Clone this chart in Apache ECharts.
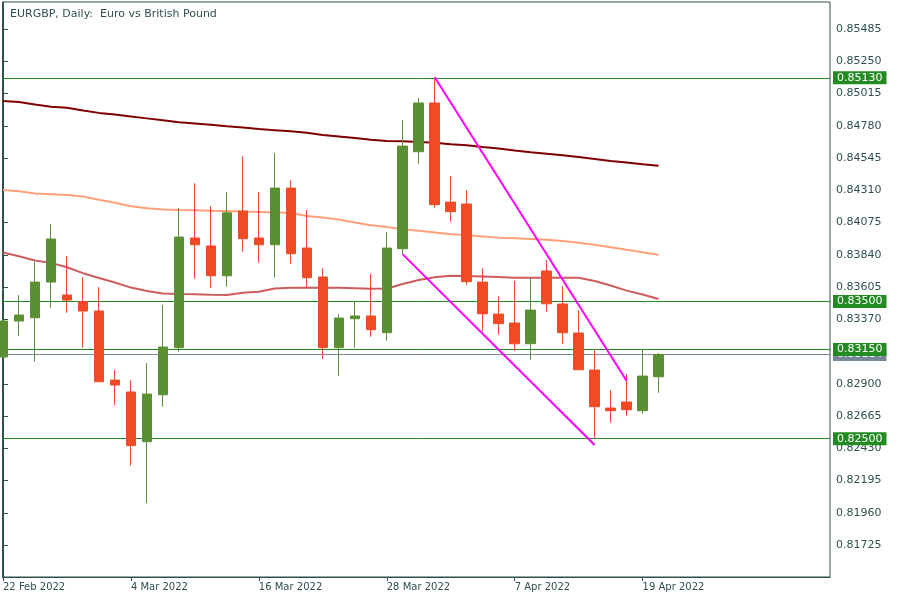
<!DOCTYPE html>
<html>
<head>
<meta charset="utf-8">
<script src="https://cdn.jsdelivr.net/npm/echarts@6/dist/echarts.min.js"></script>
<style>
  html, body { margin: 0; padding: 0; background: #ffffff; }
  #chart { width: 900px; height: 600px; }
</style>
</head>
<body>
<div id="chart"></div>
<script>
// ---- data ----
const dates = ['22 Feb 2022','23 Feb 2022','24 Feb 2022','25 Feb 2022','28 Feb 2022','1 Mar 2022','2 Mar 2022','3 Mar 2022','4 Mar 2022','7 Mar 2022','8 Mar 2022','9 Mar 2022','10 Mar 2022','11 Mar 2022','14 Mar 2022','15 Mar 2022','16 Mar 2022','17 Mar 2022','18 Mar 2022','21 Mar 2022','22 Mar 2022','23 Mar 2022','24 Mar 2022','25 Mar 2022','28 Mar 2022','29 Mar 2022','30 Mar 2022','31 Mar 2022','1 Apr 2022','4 Apr 2022','5 Apr 2022','6 Apr 2022','7 Apr 2022','8 Apr 2022','11 Apr 2022','12 Apr 2022','13 Apr 2022','14 Apr 2022','15 Apr 2022','18 Apr 2022','19 Apr 2022','20 Apr 2022'];
const opens  = [0.83095,0.83357,0.83381,0.83641,0.83547,0.83498,0.83430,0.82927,0.82840,0.82478,0.82820,0.83163,0.83962,0.83904,0.83687,0.84159,0.83962,0.83913,0.84326,0.83889,0.83678,0.83163,0.83374,0.83394,0.83272,0.83884,0.84591,0.84946,0.84224,0.84210,0.83641,0.83408,0.83343,0.83192,0.83722,0.83481,0.83270,0.83000,0.82723,0.82767,0.82704,0.82951];
const closes = [0.83357,0.83401,0.83641,0.83955,0.83510,0.83430,0.82915,0.82891,0.82449,0.82825,0.83168,0.83969,0.83913,0.83687,0.84146,0.83957,0.83913,0.84326,0.83848,0.83673,0.83163,0.83379,0.83394,0.83294,0.83889,0.84632,0.84946,0.84205,0.84154,0.83644,0.83410,0.83338,0.83192,0.83437,0.83483,0.83272,0.83002,0.82733,0.82704,0.82711,0.82956,0.83114];
const lows   = [0.83090,0.83250,0.83061,0.83454,0.83418,0.83163,0.82912,0.82745,0.82303,0.82029,0.82733,0.83133,0.83665,0.83600,0.83607,0.83862,0.83782,0.83673,0.83775,0.83600,0.83083,0.82959,0.83163,0.83243,0.83214,0.83838,0.84503,0.84183,0.84081,0.83622,0.83279,0.83257,0.83141,0.83075,0.83425,0.83192,0.82999,0.82507,0.82616,0.82667,0.82682,0.82835];
const highs  = [0.83370,0.83547,0.83789,0.84064,0.83831,0.83678,0.83605,0.83000,0.82927,0.83051,0.83474,0.84181,0.84361,0.84195,0.84297,0.84560,0.84297,0.84581,0.84385,0.84166,0.83743,0.83408,0.83501,0.83700,0.84006,0.84822,0.84982,0.85133,0.84414,0.84312,0.83743,0.83539,0.83649,0.83678,0.83802,0.83612,0.83437,0.83153,0.82854,0.82971,0.83153,0.83124];

const maSlow = [0.84960,0.84953,0.84935,0.84919,0.84912,0.84891,0.84874,0.84862,0.84848,0.84834,0.84820,0.84806,0.84797,0.84788,0.84777,0.84767,0.84756,0.84748,0.84740,0.84729,0.84713,0.84702,0.84691,0.84679,0.84670,0.84667,0.84662,0.84656,0.84646,0.84638,0.84625,0.84614,0.84600,0.84587,0.84576,0.84565,0.84552,0.84538,0.84523,0.84512,0.84499,0.84489];
const maMid  = [0.84312,0.84303,0.84287,0.84281,0.84275,0.84264,0.84241,0.84219,0.84194,0.84179,0.84170,0.84166,0.84164,0.84160,0.84159,0.84155,0.84152,0.84149,0.84144,0.84123,0.84111,0.84097,0.84075,0.84055,0.84042,0.84026,0.84015,0.84003,0.83990,0.83984,0.83974,0.83965,0.83961,0.83955,0.83949,0.83940,0.83927,0.83913,0.83895,0.83877,0.83859,0.83840];
const maFast = [0.83856,0.83829,0.83799,0.83781,0.83749,0.83706,0.83671,0.83638,0.83601,0.83576,0.83558,0.83554,0.83552,0.83549,0.83547,0.83563,0.83571,0.83595,0.83600,0.83600,0.83600,0.83600,0.83596,0.83592,0.83594,0.83627,0.83656,0.83676,0.83687,0.83685,0.83682,0.83678,0.83673,0.83673,0.83673,0.83673,0.83672,0.83649,0.83616,0.83579,0.83550,0.83518];

const trendUpper = [[27, 0.85133], [39, 0.82922]];
const trendLower = [[25, 0.83843], [37, 0.82454]];

const levels = [0.85130, 0.83500, 0.83150, 0.82500];
const currentPrice = 0.83114;

const yTickValues = [0.81725,0.81960,0.82195,0.82430,0.82665,0.82900,0.83135,0.83370,0.83605,0.83840,0.84075,0.84310,0.84545,0.84780,0.85015,0.85250,0.85485];
const xTickIndices = [0, 8, 16, 24, 32, 40];

const titleText = 'EURGBP, Daily:  Euro vs British Pound';

// ---- build ----
const frameColor = '#2f4f4f';
const upColor = '#5a9032';
const downColor = '#f14b26';
const levelColor = '#228b22';
const font = 'DejaVu Sans';

const candleData = opens.map((o, i) => [i, o, closes[i], lows[i], highs[i]]);
const toLine = arr => arr.map((v, i) => [i, v]);

const levelLabel = (bg) => ({
  show: true, position: 'end', distance: 3,
  formatter: p => Number(p.value).toFixed(5),
  color: '#ffffff', fontFamily: font, fontSize: 11,
  backgroundColor: bg, padding: [1, 4, 0, 4], lineHeight: 12
});

const markData = [
  { yAxis: currentPrice, lineStyle: { color: '#778899', width: 1, type: 'solid' }, label: levelLabel('#778899') }
].concat(levels.map(v => ({ yAxis: v, lineStyle: { color: levelColor, width: 1, type: 'solid' }, label: levelLabel(levelColor) })));

const chart = echarts.init(document.getElementById('chart'), null, { renderer: 'canvas' });
chart.setOption({
  animation: false,
  backgroundColor: '#ffffff',
  title: {
    text: titleText, left: 5, top: 4,
    textStyle: { fontFamily: font, fontSize: 11, fontWeight: 'normal', color: frameColor }
  },
  grid: { left: 2, top: 2, right: 70, bottom: 23, show: true, borderColor: frameColor, borderWidth: 1, backgroundColor: '#ffffff' },
  xAxis: {
    type: 'value', min: -0.03, max: 51.72,
    axisLine: { show: true, lineStyle: { color: frameColor, width: 1 } },
    axisTick: { show: true, customValues: xTickIndices, length: 4, lineStyle: { color: frameColor } },
    axisLabel: {
      customValues: xTickIndices, formatter: v => dates[Math.round(v)] || '',
      align: 'left', margin: 5, color: frameColor, fontFamily: font, fontSize: 10
    },
    splitLine: { show: false }
  },
  yAxis: {
    type: 'value', position: 'right', min: 0.81492, max: 0.85682,
    axisLine: { show: true, lineStyle: { color: frameColor, width: 1 } },
    axisTick: { show: true, customValues: yTickValues, length: 5, inside: false, lineStyle: { color: frameColor } },
    axisLabel: {
      customValues: yTickValues, formatter: v => Number(v).toFixed(5),
      margin: 6, color: frameColor, fontFamily: font, fontSize: 11
    },
    splitLine: { show: false }
  },
  series: [
    { type: 'line', data: toLine(maSlow), symbol: 'none', lineStyle: { color: '#800000', width: 2 }, z: 1 },
    { type: 'line', data: toLine(maMid), symbol: 'none', lineStyle: { color: '#ffa07a', width: 2 }, z: 1 },
    { type: 'line', data: toLine(maFast), symbol: 'none', lineStyle: { color: '#cd5c5c', width: 2 }, z: 1 },
    {
      type: 'candlestick',
      dimensions: ['idx', 'open', 'close', 'lowest', 'highest'],
      encode: { x: 0, y: [1, 2, 3, 4] },
      data: candleData,
      barWidth: 10,
      itemStyle: { color: upColor, color0: downColor, borderColor: upColor, borderColor0: downColor, borderWidth: 1 },
      z: 3,
      markLine: { symbol: ['none', 'none'], silent: true, precision: 5, data: markData, z: 2 }
    },
    { type: 'line', data: trendUpper, symbol: 'none', lineStyle: { color: '#ff00ff', width: 2 }, z: 4 },
    { type: 'line', data: trendLower, symbol: 'none', lineStyle: { color: '#ff00ff', width: 2 }, z: 4 }
  ]
});
</script>
</body>
</html>
